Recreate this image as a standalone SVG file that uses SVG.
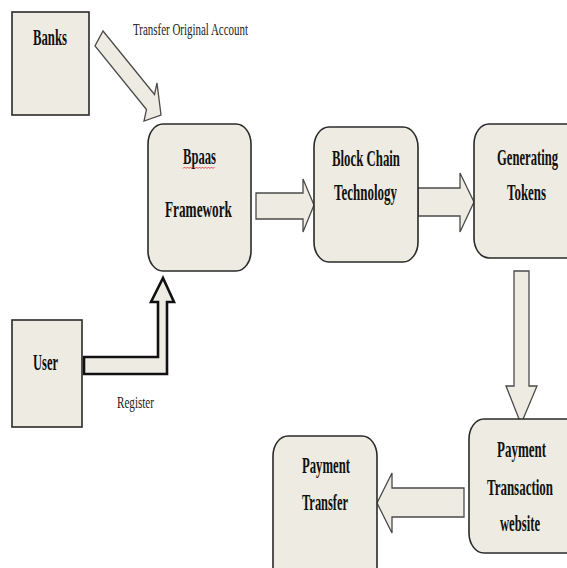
<svg xmlns="http://www.w3.org/2000/svg" width="567" height="568" viewBox="0 0 567 568">
<style>
.box{fill:#eeece2;stroke:#2a2a2a;stroke-width:1.6}
.arr{fill:#eeece2;stroke:#4a4a4a;stroke-width:1.3;stroke-linejoin:miter}
.arrb{fill:#eeece2;stroke:#111;stroke-width:2.6;stroke-linejoin:miter}
.lb{font-family:"Liberation Serif","Times New Roman",serif;font-weight:bold;font-size:22.5px;fill:#111}
.el{font-family:"Liberation Serif","Times New Roman",serif;font-size:17.5px;fill:#222}
</style>
<rect width="567" height="568" fill="#ffffff"/>
<g id="connectors">
<polygon class="arr" points="103,31 154.5,94.5 157,83 161,115 144,121 146.5,109.5 95,46"/>
<polygon class="arrb" points="84,357 158,357 158,302 151,302 163,278 174,302 167,302 167,374 84,374"/>
<polygon class="arr" points="256,193 303,193 303,179 314,205 303,232 303,219 256,219"/>
<polygon class="arr" points="418,188 460,188 460,173 474,202 460,232 460,216 418,216"/>
<polygon class="arr" points="514,271 529,271 529,386 537,386 521,424 506,386 514,386"/>
<polygon class="arr" points="464,488 392,488 392,473 377,503 392,533 392,517 464,517"/>
<text class="el" x="133" y="35" textLength="115" lengthAdjust="spacingAndGlyphs">Transfer Original Account</text>
<text class="el" x="117" y="408" textLength="37" lengthAdjust="spacingAndGlyphs">Register</text>
</g>
<g id="banks">
<rect class="box" x="12" y="12" width="77" height="103"/>
<text class="lb" x="33" y="45" textLength="34" lengthAdjust="spacingAndGlyphs">Banks</text>
</g>
<g id="user">
<rect class="box" x="12" y="320" width="70" height="107"/>
<text class="lb" x="33" y="370" textLength="25" lengthAdjust="spacingAndGlyphs">User</text>
</g>
<g id="bpaas">
<rect class="box" x="148" y="124" width="103" height="147" rx="15" ry="20"/>
<text class="lb" x="183" y="164" textLength="33" lengthAdjust="spacingAndGlyphs">Bpaas</text>
<path d="M183,168.5 l1.5,-1.5 l1.5,1.5 l1.5,-1.5 l1.5,1.5 l1.5,-1.5 l1.5,1.5 l1.5,-1.5 l1.5,1.5 l1.5,-1.5 l1.5,1.5 l1.5,-1.5 l1.5,1.5 l1.5,-1.5 l1.5,1.5 l1.5,-1.5 l1.5,1.5 l1.5,-1.5 l1.5,1.5 l1.5,-1.5 l1.5,1.5 l1.5,-1.5" fill="none" stroke="#d9261c" stroke-width="0.8"/>
<text class="lb" x="165" y="217" textLength="67" lengthAdjust="spacingAndGlyphs">Framework</text>
</g>
<g id="blockchain">
<rect class="box" x="314" y="127" width="104" height="135" rx="15" ry="20"/>
<text class="lb" x="332" y="166" textLength="68" lengthAdjust="spacingAndGlyphs">Block Chain</text>
<text class="lb" x="334" y="200" textLength="63" lengthAdjust="spacingAndGlyphs">Technology</text>
</g>
<g id="tokens">
<path class="box" d="M567,124 H489 A15,20 0 0 0 474,144 V238 A15,20 0 0 0 489,258 H567"/>
<text class="lb" x="497" y="165" textLength="61" lengthAdjust="spacingAndGlyphs">Generating</text>
<text class="lb" x="507" y="200" textLength="39" lengthAdjust="spacingAndGlyphs">Tokens</text>
</g>
<g id="website">
<path class="box" d="M567,419 H484 A15,20 0 0 0 469,439 V533 A15,20 0 0 0 484,553 H567"/>
<text class="lb" x="497" y="457" textLength="49" lengthAdjust="spacingAndGlyphs">Payment</text>
<text class="lb" x="487" y="495" textLength="66" lengthAdjust="spacingAndGlyphs">Transaction</text>
<text class="lb" x="500" y="531" textLength="40" lengthAdjust="spacingAndGlyphs">website</text>
</g>
<g id="transfer">
<path class="box" d="M273,568 V456 A15,20 0 0 1 288,436 H362 A15,20 0 0 1 377,456 V568"/>
<text class="lb" x="302" y="473" textLength="48" lengthAdjust="spacingAndGlyphs">Payment</text>
<text class="lb" x="302" y="510" textLength="46" lengthAdjust="spacingAndGlyphs">Transfer</text>
</g>
</svg>
